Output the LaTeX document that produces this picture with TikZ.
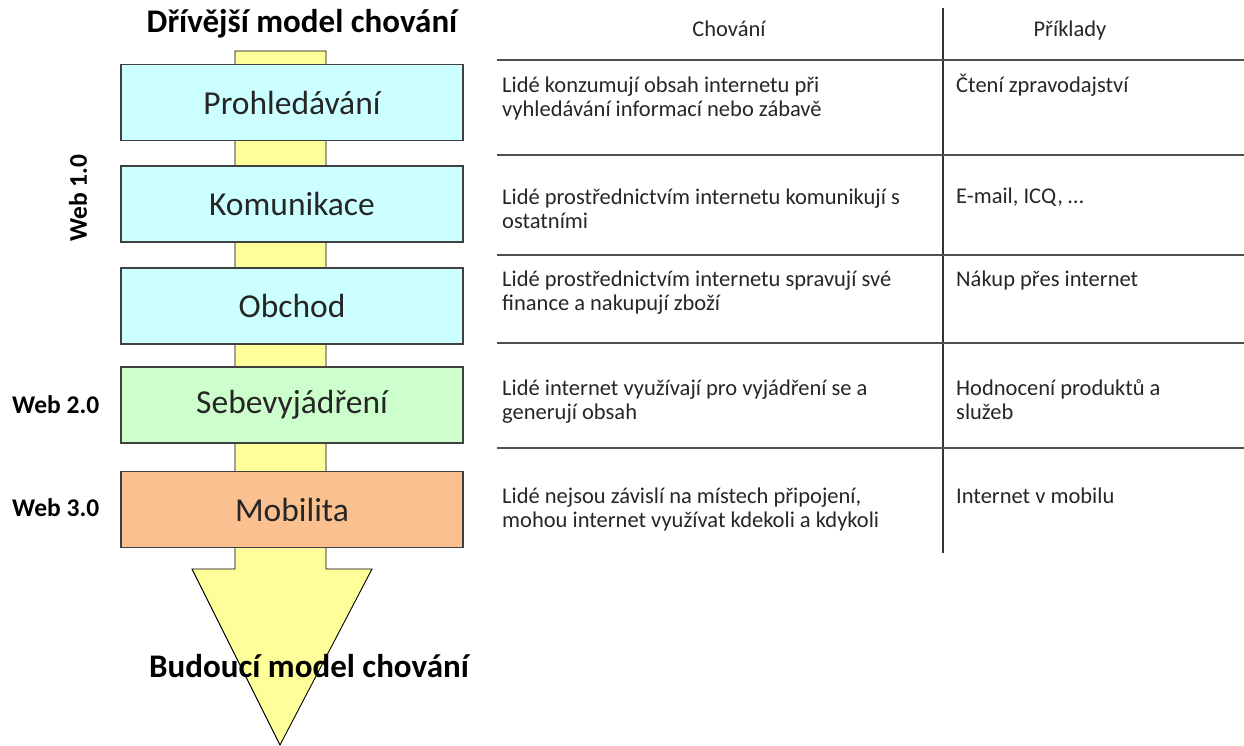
\documentclass[tikz,border=0pt]{standalone}
\usepackage{fontspec}
\setmainfont{Carlito}
\definecolor{boxcyan}{HTML}{CCFFFF}
\definecolor{boxgreen}{HTML}{CCFFCC}
\definecolor{boxorange}{HTML}{FAC090}
\definecolor{boxline}{HTML}{404040}
\definecolor{arrowyellow}{HTML}{FFFF99}
\definecolor{tabline}{HTML}{505050}
\begin{document}
\begin{tikzpicture}[x=1pt,y=-1pt,
  stage/.style={draw=boxline, line width=1.4pt, minimum width=342pt, minimum height=76pt,
    inner sep=0pt, font=\fontsize{33.5}{38}\selectfont, text=black!85},
  heading/.style={font=\fontsize{33}{38}\selectfont\bfseries, inner sep=0pt},
  weblabel/.style={font=\fontsize{25.5}{30}\selectfont\bfseries, inner sep=0pt},
  cell/.style={font=\fontsize{22.5}{24}\selectfont, align=left, inner sep=0pt, anchor=base west, text=black!85},
  colhead/.style={font=\fontsize{22.5}{24}\selectfont, inner sep=0pt, anchor=base, text=black!85},
  hline/.style={draw=tabline, line width=2.2pt},
  vline/.style={draw=black!80, line width=1.3pt}]
\useasboundingbox (0,0) rectangle (1244,746);
% big arrow
\filldraw[fill=arrowyellow, draw=black, line width=0.9pt]
  (235,51) -- (326,51) -- (326,569) -- (372,569) -- (280,745) -- (192,569) -- (235,569) -- cycle;
% stage boxes
\node[stage, fill=boxcyan] (prohl) at (292,102.5) {Prohledávání};
\node[stage, fill=boxcyan] (komun) at (292,204) {Komunikace};
\node[stage, fill=boxcyan] (obch) at (292,306) {Obchod};
\node[stage, fill=boxgreen] (sebe) at (292,405) {Sebevyjádření};
\node[stage, fill=boxorange] (mobil) at (292,509.5) {Mobilita};
% headings
\node[heading, anchor=base] (past) at (302,33) {Dřívější model chování};
\node[heading, anchor=base] (future) at (309,677) {Budoucí model chování};
% web labels
\node[weblabel, rotate=90] (web1) at (78,198) {Web 1.0};
\node[weblabel, anchor=west] (web2) at (12,405) {Web 2.0};
\node[weblabel, anchor=west] (web3) at (12,508) {Web 3.0};
% table lines
\draw[vline] (943,8) -- (943,553);
\draw[hline] (497,60) -- (1244,60);
\draw[hline] (497,155) -- (1244,155);
\draw[hline] (497,255) -- (1244,255);
\draw[hline] (497,343) -- (1244,343);
\draw[hline] (497,448) -- (1244,448);
% table headers
\node[colhead] (hchov) at (729,37) {Chování};
\node[colhead] (hprik) at (1070,37) {Příklady};
% table cells (two-line cells anchored at the baseline of their second line)
\node[cell] (c1) at (502,117) {Lidé konzumují obsah internetu při\\vyhledávání informací nebo zábavě};
\node[cell] (p1) at (956,93) {Čtení zpravodajství};
\node[cell] (c2) at (502,228) {Lidé prostřednictvím internetu komunikují s\\ostatními};
\node[cell] (p2) at (956,204) {E-mail, ICQ, …};
\node[cell] (c3) at (502,310) {Lidé prostřednictvím internetu spravují své\\finance a nakupují zboží};
\node[cell] (p3) at (956,286) {Nákup přes internet};
\node[cell] (c4) at (502,419) {Lidé internet využívají pro vyjádření se a\\generují obsah};
\node[cell] (p4) at (956,419) {Hodnocení produktů a\\služeb};
\node[cell] (c5) at (502,527) {Lidé nejsou závislí na místech připojení,\\mohou internet využívat kdekoli a kdykoli};
\node[cell] (p5) at (956,503) {Internet v mobilu};
\end{tikzpicture}
\end{document}
